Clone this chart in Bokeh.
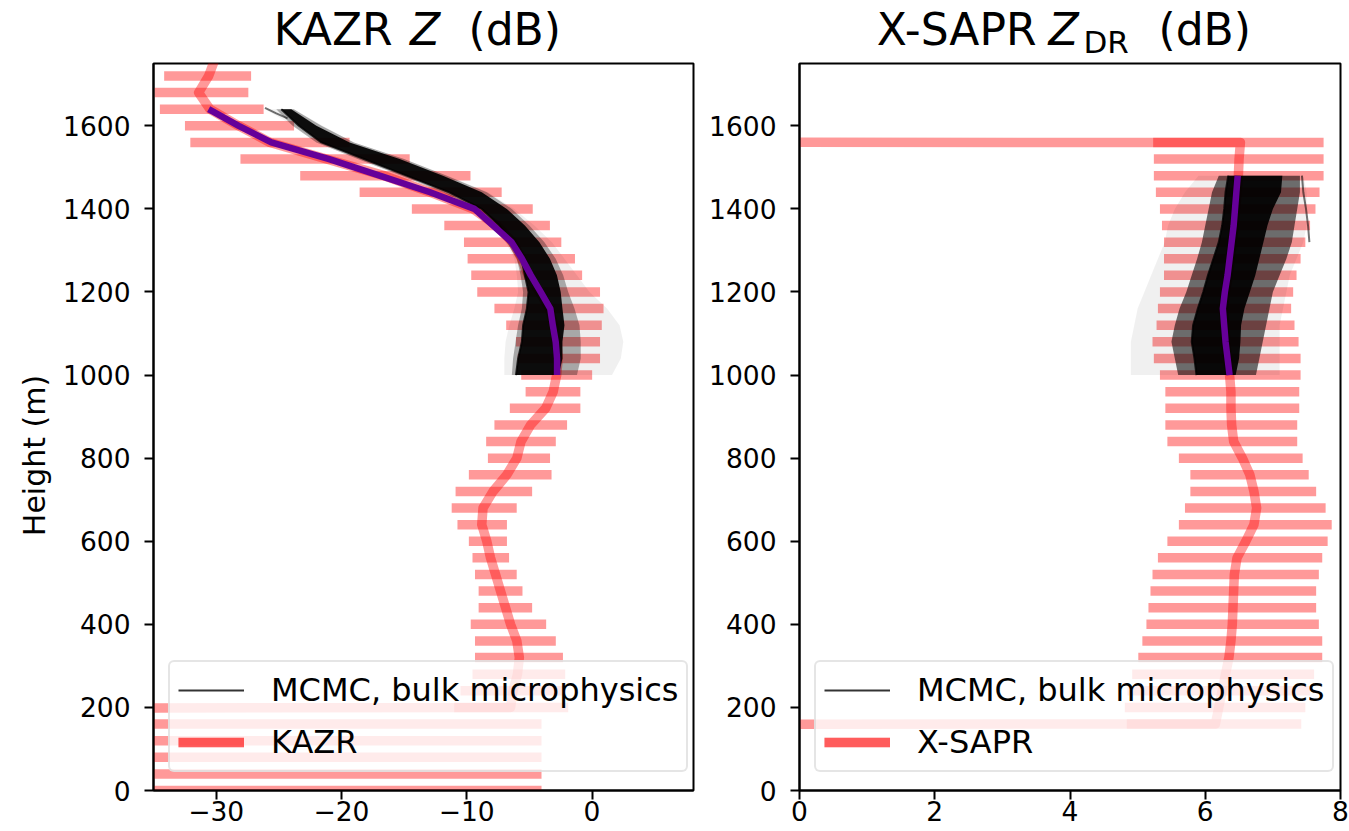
import math
from bokeh.plotting import figure
from bokeh.models import Range1d, FixedTicker, Legend, LegendItem, Label, ColumnDataSource
from bokeh.layouts import row, column
from bokeh.embed import file_html
from bokeh.resources import INLINE

FONT = "DejaVu Sans"
NAN = float("nan")
FLOOR = -1000.0   # off-scale value (no echo, -inf dB)

# ---------------- KAZR reflectivity (left) ----------------
kazr_height = [0, 40, 80, 120, 160, 200, 240, 280, 320, 360, 400, 440, 480, 520, 560, 600,
               640, 680, 720, 760, 800, 840, 880, 920, 960, 1000, 1040, 1080, 1120, 1160,
               1200, 1240, 1280, 1320, 1360, 1400, 1440, 1480, 1520, 1560, 1600, 1640, 1680,
               1720, 1760]
kazr_lo = [FLOOR, FLOOR, FLOOR, FLOOR, FLOOR, -11.0, -10.5, -9.54, -9.34, -9.34, -9.68, -9.05,
           -9.05, -9.34, -9.54, -9.83, -10.74, -11.2, -10.89, -9.83, -8.31, -8.45, -7.79, -6.56,
           -5.30, -5.65, -5.93, -6.07, -6.85, -7.79, -9.16, -9.64, -9.93, -10.22, -11.79, -14.38,
           -18.55, -23.29, -28.06, -32.06, -32.49, -34.49, -34.92, -34.15, NAN]
kazr_hi = [-4.03, -4.03, -4.03, -4.03, -4.03, -1.9, -2.1, -2.14, -2.32, -2.89, -3.66, -4.78,
           -5.55, -6.01, -6.62, -6.79, -6.79, -6.01, -4.78, -3.23, -3.35, -2.89, -1.99, -0.93,
           -0.93, 0.01, 0.64, 0.64, 0.78, 0.92, 0.64, -0.79, -1.36, -2.45, -3.36, -4.73,
           -7.21, -9.70, -14.55, -19.35, -23.78, -26.21, -27.43, -27.21, NAN]
kazr_mean = [FLOOR, FLOOR, FLOOR, FLOOR, FLOOR, -6.5, -6.3, -5.95, -5.8, -6.0, -6.5, -6.9,
             -7.3, -7.7, -8.1, -8.4, -8.8, -8.7, -7.9, -6.8, -6.0, -5.67, -4.9, -3.7,
             -3.1, -2.82, -2.7, -2.8, -3.05, -3.4, -4.2, -5.1, -5.62, -6.35, -7.6, -9.5,
             -12.9, -16.6, -21.2, -25.7, -28.2, -30.5, -31.4, -30.6, -30.1]
kazr_fit_height = [1000, 1040, 1080, 1120, 1160, 1200, 1240, 1280, 1320, 1360, 1400, 1440,
                   1480, 1520, 1560, 1600, 1640]
kazr_fit = [-2.79, -2.79, -2.9, -3.13, -3.33, -4.1, -4.88, -5.59, -6.42, -7.9, -9.39, -12.93,
            -16.95, -20.98, -25.6, -28.2, -30.6]
kazr_mcmc_core_lo = [-6.07, -5.9, -5.6, -5.5, -5.2, -5.07, -5.36, -5.64, -6.5, -7.4, -8.8,
                     -11.4, -14.8, -18.2, -21.6, -23.4, -24.8]
kazr_mcmc_core_hi = [-2.65, -2.36, -2.36, -2.2, -2.36, -2.5, -2.8, -3.36, -4.2, -5.36, -6.8,
                     -8.8, -11.9, -15.35, -19.35, -22.0, -24.0]
kazr_mcmc_mid_lo = [-6.4, -6.3, -6.1, -5.9, -5.6, -5.5, -5.7, -6.0, -6.8, -7.7, -9.1,
                    -11.9, -15.2, -18.7, -22.0, -23.9, -25.2]
kazr_mcmc_mid_hi = [-1.2, -0.9, -0.9, -1.0, -1.4, -1.9, -2.3, -2.9, -3.8, -5.0, -6.4,
                    -8.4, -11.6, -15.0, -19.0, -21.6, -23.8]
kazr_mcmc_outer_lo = [-7.0, -7.0, -6.9, -6.6, -6.2, -5.9, -6.0, -6.2, -6.9, -7.8, -9.2,
                      -11.8, -15.2, -18.6, -21.8, -23.8, -26.1]
kazr_mcmc_outer_hi = [1.6, 2.3, 2.5, 2.2, 1.2, -0.2, -1.2, -2.2, -3.2, -4.6, -6.2,
                      -8.3, -11.5, -15.0, -19.0, -21.5, -23.8]
kazr_stray_height = [1643, 1630, 1618]          # one stray MCMC member near cloud top
kazr_stray = [-26.1, -25.2, -24.3]
kazr_xticks = [-30, -20, -10, 0]
kazr_xtick_labels = ["\u221230", "\u221220", "\u221210", "0"]

# ---------------- X-SAPR differential reflectivity (right) ----------------
xsapr_height = [120, 160, 200, 240, 280, 320, 360, 400, 440, 480, 520, 560, 600, 640, 680,
                720, 760, 800, 840, 880, 920, 960, 1000, 1040, 1080, 1120, 1160, 1200, 1240,
                1280, 1320, 1360, 1400, 1440, 1480, 1520, 1560, 1600]
xsapr_lo = [NAN, 4.84, 4.81, 4.85, 4.92, 5.01, 5.07, 5.13, 5.16, 5.19, 5.22, 5.3, 5.44, 5.61,
            5.7, 5.78, 5.78, 5.61, 5.44, 5.41, 5.41, 5.41, 5.33, 5.24, 5.22, 5.28, 5.3, 5.33,
            5.39, 5.39, 5.39, 5.36, 5.33, 5.27, 5.24, 5.24, 5.23, NAN]
xsapr_hi = [NAN, 7.42, 7.48, 7.55, 7.61, 7.73, 7.73, 7.68, 7.64, 7.64, 7.68, 7.73, 7.81, 7.87,
            7.78, 7.64, 7.53, 7.44, 7.36, 7.36, 7.39, 7.39, 7.41, 7.41, 7.38, 7.32, 7.27, 7.3,
            7.35, 7.41, 7.48, 7.55, 7.63, 7.69, 7.75, 7.75, 7.75, NAN]
xsapr_mean = [FLOOR, 6.15, 6.2, 6.25, 6.3, 6.35, 6.38, 6.4, 6.41, 6.42, 6.43, 6.47, 6.6, 6.72,
              6.76, 6.72, 6.66, 6.55, 6.42, 6.39, 6.38, 6.38, 6.36, 6.33, 6.3, 6.29, 6.27, 6.3,
              6.34, 6.37, 6.4, 6.43, 6.45, 6.47, 6.49, 6.5, 6.52, FLOOR]
xsapr_fit_height = [1000, 1040, 1080, 1120, 1160, 1200, 1240, 1280, 1320, 1360, 1400, 1440, 1480]
xsapr_fit = [6.36, 6.33, 6.3, 6.28, 6.26, 6.29, 6.33, 6.36, 6.39, 6.42, 6.44, 6.46, 6.48]
xsapr_mcmc_core_lo = [5.87, 5.84, 5.8, 5.82, 5.89, 5.97, 6.04, 6.12, 6.2, 6.25, 6.28, 6.3, 6.34]
xsapr_mcmc_core_hi = [6.45, 6.5, 6.52, 6.53, 6.58, 6.66, 6.74, 6.8, 6.86, 6.92, 7.0, 7.12, 7.14]
xsapr_mcmc_mid_lo = [5.6, 5.55, 5.5, 5.55, 5.62, 5.72, 5.8, 5.88, 5.95, 6.0, 6.05, 6.1, 6.2]
xsapr_mcmc_mid_hi = [6.75, 6.8, 6.85, 6.9, 6.95, 7.0, 7.1, 7.2, 7.28, 7.32, 7.36, 7.4, 7.4]
xsapr_mcmc_outer_lo = [4.9, 4.9, 4.9, 4.95, 5.0, 5.1, 5.2, 5.3, 5.4, 5.45, 5.55, 5.7, 5.9]
xsapr_mcmc_outer_hi = [7.1, 7.1, 7.1, 7.1, 7.15, 7.2, 7.25, 7.35, 7.45, 7.5, 7.5, 7.5, 7.45]
xsapr_stray_height = [1480, 1440, 1400, 1360, 1320]   # one outlying MCMC member
xsapr_stray = [7.43, 7.45, 7.49, 7.52, 7.54]
xsapr_xticks = [0, 2, 4, 6, 8]
xsapr_xtick_labels = ["0", "2", "4", "6", "8"]

height_ticks = [0, 200, 400, 600, 800, 1000, 1200, 1400, 1600]

PAGE_H = 831
STRIP_H = 62
MAIN_H = PAGE_H - STRIP_H
YLAB_W = 60


def make_panel(x_range, heights, lo, hi, mean, fit_h, fit, c_lo, c_hi, m_lo, m_hi, o_lo, o_hi,
               mid_alpha, stray_h, stray, xticks, xlabels, radar_name, width, border_left,
               border_right):
    p = figure(width=width, height=MAIN_H, x_range=x_range, y_range=Range1d(0, 1750),
               output_backend="svg", toolbar_location=None,
               min_border_left=border_left, min_border_right=border_right,
               min_border_top=1, min_border_bottom=41)
    p.background_fill_color = "white"
    p.border_fill_color = "white"
    p.grid.visible = False
    p.outline_line_color = "black"
    p.outline_line_width = 2
    p.outline_line_alpha = 1.0

    # error bars (mean +/- spread) and mean profile
    keep = [i for i in range(len(heights)) if not (math.isnan(lo[i]) or math.isnan(hi[i]))]
    bars = ColumnDataSource(dict(h=[heights[i] for i in keep], lo=[lo[i] for i in keep],
                                 hi=[hi[i] for i in keep]))
    r_bars = p.segment(x0="lo", y0="h", x1="hi", y1="h", source=bars, line_color="red",
                       line_alpha=0.4, line_width=9.5, line_cap="butt")
    r_mean = p.line(mean, heights, line_color="red", line_alpha=0.4, line_width=9.5,
                    line_join="round")

    # MCMC ensemble envelope
    p.harea(x1=o_lo, x2=o_hi, y=fit_h, fill_color="black", fill_alpha=0.06)
    p.harea(x1=m_lo, x2=m_hi, y=fit_h, fill_color="black", fill_alpha=mid_alpha)
    p.harea(x1=c_lo, x2=c_hi, y=fit_h, fill_color="black", fill_alpha=0.93)
    p.line(stray, stray_h, line_color="black", line_alpha=0.55, line_width=2)
    r_mcmc = p.line(c_lo, fit_h, line_color="black", line_alpha=0.8, line_width=2)
    p.line(fit, fit_h, line_color="#660099", line_width=6.5, line_join="round")

    # axes
    for ax in (p.xaxis[0], p.yaxis[0]):
        ax.axis_line_color = "black"
        ax.axis_line_width = 2
        ax.major_tick_line_color = "black"
        ax.major_tick_line_width = 2
        ax.major_tick_out = 9
        ax.major_tick_in = 0
        ax.minor_tick_out = 0
        ax.minor_tick_in = 0
        ax.major_label_text_font = FONT
        ax.major_label_text_font_size = "26.5px"
        ax.major_label_text_color = "black"
    p.xaxis.major_label_standoff = 1
    p.yaxis.major_label_standoff = 14
    p.xaxis.ticker = FixedTicker(ticks=xticks)
    p.xaxis.major_label_overrides = {t: s for t, s in zip(xticks, xlabels)}
    p.yaxis.ticker = FixedTicker(ticks=height_ticks)

    legend = Legend(items=[LegendItem(label="MCMC, bulk microphysics", renderers=[r_mcmc]),
                           LegendItem(label=radar_name, renderers=[r_bars, r_mean])],
                    location=(15, 18))
    legend.label_text_font = FONT
    legend.label_text_font_size = "32px"
    legend.label_text_color = "black"
    legend.glyph_width = 66
    legend.glyph_height = 40
    legend.label_height = 40
    legend.label_standoff = 27
    legend.spacing = 12
    legend.padding = 8
    legend.margin = 0
    legend.border_line_color = "#cccccc"
    legend.border_line_width = 2
    legend.background_fill_color = "white"
    legend.background_fill_alpha = 0.8
    try:
        legend.border_radius = 6
    except Exception:
        pass
    p.add_layout(legend, "center")
    return p


def text_strip(width, height, x_range, border_left, border_right, pieces, y_range=None):
    t = figure(width=width, height=height, x_range=x_range,
               y_range=y_range if y_range is not None else Range1d(0, height),
               output_backend="svg", toolbar_location=None, x_axis_type=None, y_axis_type=None,
               min_border_left=border_left, min_border_right=border_right,
               min_border_top=0, min_border_bottom=0)
    t.outline_line_color = None
    t.background_fill_color = "white"
    t.border_fill_color = "white"
    for x, y, dx, text, style, size, angle, align in pieces:
        t.add_layout(Label(x=x, y=y, x_offset=dx, text=text, text_font=FONT, angle=angle,
                           text_font_size=size, text_font_style=style, text_color="black",
                           text_align=align, text_baseline="middle"))
    return t


xr1 = Range1d(-35, 8.1)
xr2 = Range1d(0, 8)

W1 = 703 - YLAB_W
p1 = make_panel(xr1, kazr_height, kazr_lo, kazr_hi, kazr_mean, kazr_fit_height, kazr_fit,
                kazr_mcmc_core_lo, kazr_mcmc_core_hi, kazr_mcmc_mid_lo, kazr_mcmc_mid_hi,
                kazr_mcmc_outer_lo, kazr_mcmc_outer_hi, 0.30, kazr_stray_height, kazr_stray,
                kazr_xticks, kazr_xtick_labels, "KAZR", W1, 152 - YLAB_W, 10)
p2 = make_panel(xr2, xsapr_height, xsapr_lo, xsapr_hi, xsapr_mean, xsapr_fit_height,
                xsapr_fit, xsapr_mcmc_core_lo, xsapr_mcmc_core_hi, xsapr_mcmc_mid_lo,
                xsapr_mcmc_mid_hi, xsapr_mcmc_outer_lo, xsapr_mcmc_outer_hi, 0.55,
                xsapr_stray_height, xsapr_stray,
                xsapr_xticks, xsapr_xtick_labels, "X-SAPR", 646, 96, 9)

TS = "44px"
c1, c2 = -13.45, 4.0
t1 = text_strip(W1, STRIP_H, xr1, 152 - YLAB_W, 10, [
    (c1, 33.2, -149.8, "KAZR", "normal", TS, 0, "left"),
    (c1, 33.2, -13.5, "Z", "italic", TS, 0, "left"),
    (c1, 33.2, 45.0, "(dB)", "normal", TS, 0, "left"),
])
t2 = text_strip(646, STRIP_H, xr2, 96, 9, [
    (c2, 33.2, -193.2, "X-SAPR", "normal", TS, 0, "left"),
    (c2, 33.2, -21.5, "Z", "italic", TS, 0, "left"),
    (c2, 20.5, 13.5, "DR", "normal", "31px", 0, "left"),
    (c2, 33.2, 88.5, "(dB)", "normal", TS, 0, "left"),
])
ylab = text_strip(YLAB_W, PAGE_H, Range1d(0, YLAB_W), 0, 0, [
    (34, PAGE_H - 455, 0, "Height (m)", "normal", "30px", math.pi / 2, "center"),
], y_range=Range1d(0, PAGE_H))

layout = row(ylab, column(t1, p1), column(t2, p2))
open("out.html", "w").write(file_html(layout, INLINE))
